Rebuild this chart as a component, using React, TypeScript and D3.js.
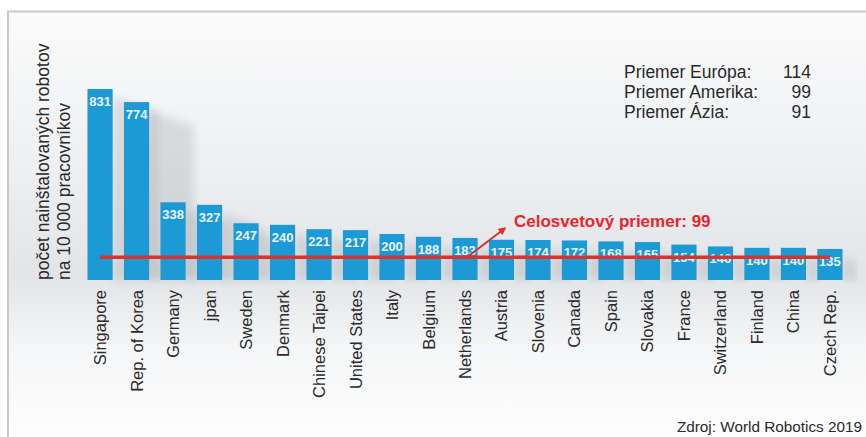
import React, { useEffect, useRef } from 'react'
import * as d3 from 'd3'

const countries = ['Singapore', 'Rep. of Korea', 'Germany', 'jpan', 'Sweden', 'Denmark', 'Chinese Taipei', 'United States', 'Italy', 'Belgium', 'Netherlands', 'Austria', 'Slovenia', 'Canada', 'Spain', 'Slovakia', 'France', 'Switzerland', 'Finland', 'China', 'Czech Rep.']
const density = [831, 774, 338, 327, 247, 240, 221, 217, 200, 188, 183, 175, 174, 172, 168, 165, 154, 146, 140, 140, 135]
const worldAvg = 99
const regionNames = ['Priemer Európa:', 'Priemer Amerika:', 'Priemer Ázia:']
const regionValues = [114, 99, 91]

const W = 866
const H = 437
const FONT = '"Liberation Sans", Arial, sans-serif'

export default function App() {
  const svgRef = useRef<SVGSVGElement>(null)

  useEffect(() => {
    const svg = d3.select(svgRef.current)
    svg.selectAll('*').remove()

    const defs = svg.append('defs')
    const bg = defs.append('linearGradient').attr('id', 'bg').attr('x1', 0).attr('x2', 0).attr('y1', 0).attr('y2', 1)
    bg.append('stop').attr('offset', '0%').attr('stop-color', '#fbfbfb')
    bg.append('stop').attr('offset', '35%').attr('stop-color', '#eef0f2')
    bg.append('stop').attr('offset', '62%').attr('stop-color', '#e2e4e7')
    bg.append('stop').attr('offset', '80%').attr('stop-color', '#f6f7f8')
    bg.append('stop').attr('offset', '100%').attr('stop-color', '#fdfdfd')
    defs.append('filter').attr('id', 'blur').append('feGaussianBlur').attr('stdDeviation', 4)
    const mk = defs.append('marker').attr('id', 'arrow').attr('viewBox', '0 0 10 10')
      .attr('refX', 8).attr('refY', 5).attr('markerWidth', 4).attr('markerHeight', 4)
      .attr('orient', 'auto')
    mk.append('path').attr('d', 'M0,0L10,5L0,10z').attr('fill', '#e0322a')

    // panel
    svg.append('rect').attr('x', 8).attr('y', 11).attr('width', W - 8).attr('height', H - 11).attr('fill', 'url(#bg)')
    svg.append('path').attr('d', `M8,${H}V11.5H${W}`).attr('fill', 'none').attr('stroke', '#c9c9c9').attr('stroke-width', 2)

    const x = d3.scaleBand().domain(countries).range([82, 848]).paddingInner(0.31).paddingOuter(0.15)
    const y = d3.scaleLinear().domain([0, 831]).range([280, 89])

    const g = svg.append('g')

    // soft shadows behind bars
    g.selectAll('path.shadow').data(density).join('path')
      .attr('class', 'shadow')
      .attr('d', (d, i) => {
        const x0 = x(countries[i])! + x.bandwidth()
        const top = y(d) + 8
        const len = Math.min((280 - top) * 0.6, 45)
        return `M${x0},${top}L${x0 + len},${top + len * 0.35}L${x0 + len},280L${x0},280Z`
      })
      .attr('fill', '#9a9ea4').attr('opacity', 0.28).attr('filter', 'url(#blur)')

    g.selectAll('rect.bar').data(density).join('rect')
      .attr('class', 'bar')
      .attr('x', (d, i) => x(countries[i])!)
      .attr('y', d => y(d))
      .attr('width', x.bandwidth())
      .attr('height', d => y(0) - y(d))
      .attr('fill', '#1c9ad6')

    g.selectAll('text.val').data(density).join('text')
      .attr('class', 'val')
      .attr('x', (d, i) => x(countries[i])! + x.bandwidth() / 2)
      .attr('y', d => y(d) + 17)
      .attr('text-anchor', 'middle')
      .attr('font-family', FONT).attr('font-weight', 'bold').attr('font-size', 13)
      .attr('fill', '#e8f4fb')
      .text(d => d)

    // world average line
    const x1 = x(countries[0])! + x.bandwidth() / 2
    const x2 = x(countries[countries.length - 1])! + x.bandwidth() / 2
    g.append('line').attr('x1', x1).attr('x2', x2).attr('y1', y(worldAvg)).attr('y2', y(worldAvg))
      .attr('stroke', '#d5352c').attr('stroke-width', 3.5)
    const nx = x('Netherlands')! + x.bandwidth() / 2 + 2
    g.append('line').attr('x1', nx).attr('y1', y(worldAvg)).attr('x2', nx + 38).attr('y2', y(worldAvg) - 29)
      .attr('stroke', '#d8332b').attr('stroke-width', 2).attr('marker-end', 'url(#arrow)')
    g.append('text').attr('x', 514).attr('y', 227)
      .attr('font-family', FONT).attr('font-weight', 'bold').attr('font-size', 17)
      .attr('fill', '#e8262b').text(`Celosvetový priemer: ${worldAvg}`)

    // category labels
    g.selectAll('text.cat').data(countries).join('text')
      .attr('class', 'cat')
      .attr('transform', d => `translate(${x(d)! + x.bandwidth() / 2 + 6},290) rotate(-90)`)
      .attr('text-anchor', 'end')
      .attr('font-family', FONT).attr('font-size', 16.5)
      .attr('fill', '#2a2a2a')
      .text(d => d)

    // y title
    const yt = svg.append('text').attr('transform', 'translate(49,280) rotate(-90)')
      .attr('font-family', FONT).attr('font-size', 17.5).attr('fill', '#2a2a2a')
    yt.append('tspan').attr('x', 0).attr('y', 0).text('počet nainštalovaných robotov')
    yt.append('tspan').attr('x', 0).attr('y', 21).text('na 10 000 pracovníkov')

    // regional averages
    const leg = svg.append('g').attr('font-family', FONT).attr('font-size', 17.5).attr('fill', '#2a2a2a')
    leg.selectAll('text.rn').data(regionNames).join('text').attr('class', 'rn')
      .attr('x', 624).attr('y', (d, i) => 78 + i * 20).text(d => d)
    leg.selectAll('text.rv').data(regionValues).join('text').attr('class', 'rv')
      .attr('x', 811).attr('y', (d, i) => 78 + i * 20).attr('text-anchor', 'end').text(d => d)

    svg.append('text').attr('x', 862).attr('y', 432).attr('text-anchor', 'end')
      .attr('font-family', FONT).attr('font-size', 15.3).attr('fill', '#2a2a2a')
      .text('Zdroj: World Robotics 2019')
  }, [])

  return (
    <svg ref={svgRef} width={W} height={H} style={{ position: 'absolute', left: 0, top: 0, display: 'block' }} />
  )
}
